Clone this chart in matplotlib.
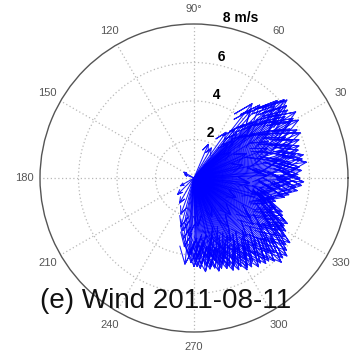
import numpy as np
import matplotlib
matplotlib.use("Agg")
import matplotlib.pyplot as plt

plt.rcParams['font.family'] = ['Liberation Sans', 'DejaVu Sans']

# wind direction (deg, counterclockwise from east) and speed (m/s)
directions = [
    52, 50, 48, 47, 45, 44, 43, 42, 41, 40, 39, 38, 37, 36, 35,
    46, 44, 42, 40, 38, 36, 34, 33, 32, 31, 30, 29, 28, 27, 26,
    25, 24, 23, 22, 21, 20, 19, 18, 17, 16, 15, 14, 13, 12, 11,
    10, 9, 8, 7, 6, 5, 4, 3, 2, 1, 0, -1, -2, -3, -4,
    -5, -6, -7, -8, -9, -10, -11, -12, -13, -14, -15, -16, -17, -18, -19,
    -20, -21, -22, -23, -24, -25, -26, -27, -28, -29, -30, -31, -32, -33, -34,
    -35, -36, -37, -38, -39, -40, -41, -42, -43, -44, -45, -46, -47, -48, -49,
    -50, -51, -52, -53, -54, -55, -56, -57, -58, -59, -60, -61, -62, -63, -64,
    -65, -66, -67, -68, -69, -70, -71, -72, -73, -74, -75, -76, -77, -78, -79,
    -80, -81, -82, -83, -84, -85, -86, -87, -88, -89, -90, -92, -94, -96, -98,
    -100, -105, -110, -120, -135, -150, 150, 160, 60, 67, -102, -95, -85, -75, -65,
    -55, -45, -35, -25, -15, -5, 5, 15, 25, 35, 45, 50, 55, -60, -70,
    -93, -88, -78, -68, -58, -48, -38, -28, -18, -8, 2, 12, 22, 32, 42,
]
speeds = [
    4.9, 4.6, 5.1, 3.8, 5.4, 4.2, 5.9, 5.6, 6.2, 6.3, 5.8, 6.1, 5.5, 6.0, 5.2,
    3.2, 2.8, 4.4, 3.5, 4.8, 3.9, 5.7, 6.3, 4.6, 6.0, 5.8, 6.2, 5.0, 5.6, 4.3,
    5.9, 5.2, 6.0, 4.7, 5.5, 5.8, 4.1, 5.3, 5.7, 3.6, 5.6, 4.9, 5.4, 5.8, 4.4,
    5.7, 5.1, 5.9, 4.6, 5.5, 5.3, 5.6, 4.0, 5.4, 5.2, 5.5, 4.8, 5.7, 5.0, 5.6,
    5.3, 4.5, 5.4, 5.1, 4.2, 5.0, 4.6, 4.8, 3.8, 4.3, 4.1, 4.4, 3.9, 4.2, 4.0,
    4.5, 4.9, 4.4, 5.0, 4.4, 5.2, 5.4, 4.7, 5.3, 5.3, 5.5, 5.2, 4.8, 5.6, 6.0,
    5.2, 5.9, 4.5, 6.1, 5.4, 6.3, 5.0, 6.2, 5.7, 6.3, 5.5, 6.0, 4.8, 5.8, 5.6,
    5.8, 5.1, 5.6, 4.6, 5.7, 5.3, 4.9, 5.5, 5.0, 5.4, 5.5, 4.4, 5.2, 4.8, 5.3,
    5.0, 4.3, 5.2, 4.9, 4.5, 5.0, 4.7, 4.1, 4.9, 4.6, 5.0, 4.4, 4.8, 3.9, 4.7,
    4.8, 4.2, 4.6, 4.9, 3.8, 4.5, 4.7, 4.1, 4.6, 4.3, 4.6, 4.4, 4.0, 4.5, 3.6,
    3.2, 2.6, 2.0, 1.5, 1.2, 0.8, 0.6, 0.5, 1.8, 1.9, 2.8, 3.0, 2.5, 3.4, 2.2,
    3.1, 2.7, 3.6, 2.4, 3.3, 2.9, 3.5, 2.6, 3.0, 2.3, 2.5, 3.3, 2.9, 3.8, 3.5,
    3.9, 3.7, 4.2, 4.0, 4.4, 4.1, 3.9, 4.3, 3.9, 4.2, 3.8, 4.5, 4.1, 4.4, 4.0,
]

angle_ticks = [30, 60, 90, 120, 150, 180, 210, 240, 270, 300, 330]
angle_labels = ['30', '60', '90°', '120', '150', '180', '210', '240', '270', '300', '330']
r_ticks = [2, 4, 6, 8]
r_labels = ['2', '4', '6', '8 m/s']
title_text = '(e) Wind 2011-08-11'

fig = plt.figure(figsize=(3.6, 3.56), dpi=100)
ax = fig.add_axes([40/360, 24/356, 308/360, 308/356], projection='polar')
ax.set_ylim(0, 8)
ax.set_xticks(np.deg2rad(np.arange(0, 360, 30)))
ax.set_xticklabels([])
ax.set_yticks(r_ticks[:-1])
ax.set_yticklabels([])
ax.grid(True, linestyle=(0, (1, 2)), color='#b8b8b8', linewidth=0.9)
ax.spines['polar'].set_color('#555555')
ax.spines['polar'].set_linewidth(1.0)

for a, lab in zip(angle_ticks, angle_labels):
    ax.text(np.deg2rad(a), 8.8, lab, ha='center', va='center',
            fontsize=8, color='#555555', clip_on=False)

for r, lab in zip(r_ticks, r_labels):
    ax.text(np.deg2rad(82), r, '  ' + lab, ha='left', va='bottom',
            fontsize=10, fontweight='bold', color='black', clip_on=False)

ha = np.arctan2(0.08, 0.8)
hr = np.hypot(0.8, 0.08)
for d, s in zip(directions, speeds):
    th = np.deg2rad(d)
    ax.plot([th, th, th + ha, th, th - ha],
            [0, s, s * hr, s, s * hr],
            color='#0000ff', linewidth=0.75, alpha=0.9)

fig.text(166/360, 1 - 301/356, title_text, ha='center', va='center',
         fontsize=20, color='#111111')

fig.savefig('out.png', dpi=100)
